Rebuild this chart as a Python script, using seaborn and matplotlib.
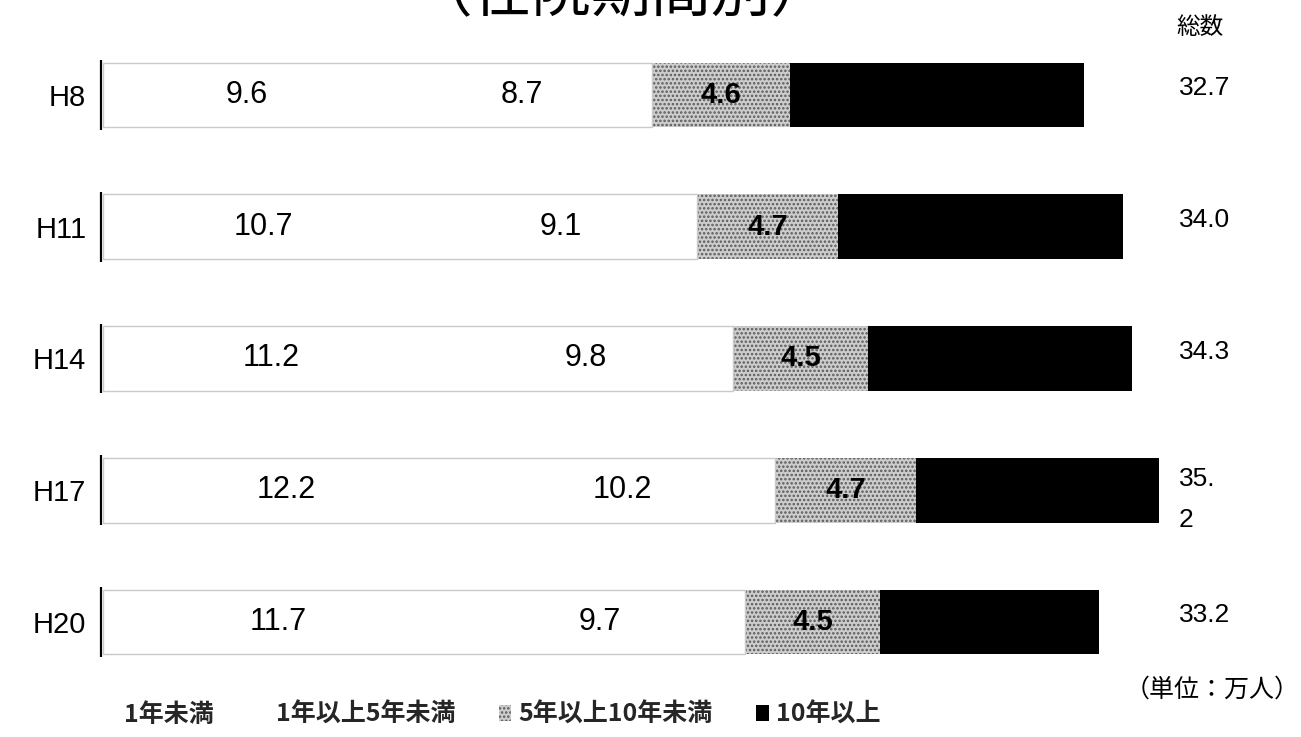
import matplotlib
matplotlib.use("Agg")
import matplotlib.pyplot as plt
import matplotlib.patches as mpatches
import seaborn as sns
import numpy as np
import pandas as pd

# ---- data ----
categories = ["H8", "H11", "H14", "H17", "H20"]
under_1y = [9.6, 10.7, 11.2, 12.2, 11.7]
y1_to_5 = [8.7, 9.1, 9.8, 10.2, 9.7]
y5_to_10 = [4.6, 4.7, 4.5, 4.7, 4.5]
over_10y = [9.8, 9.5, 8.8, 8.1, 7.3]
total_labels = ["32.7", "34.0", "34.3", "35.\n2", "33.2"]
series_names = ["1年未満", "1年以上5年未満", "5年以上10年未満", "10年以上"]

sns.set_theme(style="white")
plt.rcParams["font.family"] = ["Liberation Sans", "Noto Sans CJK JP", "DejaVu Sans"]
plt.rcParams["hatch.linewidth"] = 1.2

df = pd.DataFrame({"cat": categories, "a": under_1y, "b": y1_to_5,
                   "c": y5_to_10, "d": over_10y})
df["c1"] = df["a"]
df["c2"] = df["a"] + df["b"]
df["c3"] = df["c2"] + df["c"]
df["c4"] = df["c3"] + df["d"]

W, H = 1301, 737
fig = plt.figure(figsize=(W / 100, H / 100), dpi=100)
ax = fig.add_axes([103 / W, 0, 1198 / W, 1])

bw = 0.49
grey_face, grey_dot = "#cdcdcd", "#5a5a5a"
sns.barplot(data=df, y="cat", x="c4", orient="h", color="black", width=bw,
            saturation=1, linewidth=0, ax=ax)
sns.barplot(data=df, y="cat", x="c3", orient="h", color=grey_face, width=bw,
            saturation=1, hatch="....", edgecolor=grey_dot, linewidth=0, ax=ax)
sns.barplot(data=df, y="cat", x="c1", orient="h", color="white", width=bw,
            saturation=1, linewidth=0, ax=ax)
sns.barplot(data=df, y="cat", x="c2", orient="h", color="white", width=bw,
            saturation=1, edgecolor="#cacaca", linewidth=1.0, ax=ax)

ypos = np.arange(len(categories))
ax.vlines(np.full(len(categories), -0.08), ypos - bw / 2 - 0.02, ypos + bw / 2 + 0.02,
          color="black", lw=1.6, zorder=5, clip_on=False)

ax.set_xlim(0, 1198 / 30)
ax.set_ylim(4.873, -0.721)
ax.set_xlabel("")
ax.set_ylabel("")
ax.set_xticks([])
ax.tick_params(axis="y", left=False, pad=6, labelsize=21, labelcolor="black")
sns.despine(ax=ax, left=True, bottom=True)

num_font = dict(color="black", family=["Liberation Sans", "DejaVu Sans"])
for i in range(len(categories)):
    ax.text(df["a"][i] / 2, i, f"{under_1y[i]}", ha="center", va="center",
            fontsize=22, **num_font)
    ax.text(df["c1"][i] + df["b"][i] / 2, i, f"{y1_to_5[i]}", ha="center", va="center",
            fontsize=22, **num_font)
    ax.text(df["c2"][i] + df["c"][i] / 2, i, f"{y5_to_10[i]}", ha="center", va="center",
            fontsize=21, fontweight="bold", **num_font)
    two = "\n" in total_labels[i]
    ax.text(35.85, i + (0.07 if two else -0.05), total_labels[i],
            ha="left", va="center", linespacing=1.85,
            fontsize=19, color="black", family=["Liberation Sans Narrow", "Liberation Sans"])

cjk = ["Noto Sans CJK JP", "DejaVu Sans"]
fig.text(622 / W, 1 - 10 / H, "（在院期間別）", ha="center", va="baseline",
         fontsize=43, family=cjk, color="black")
fig.text(1200 / W, 1 - 28 / H, "総数", ha="center", va="center", fontsize=17,
         family=cjk, color="black")
fig.text(1300 / W, 1 - 690 / H, "（単位：万人）", ha="right", va="center", fontsize=18,
         family=cjk, color="black")

handles = [
    mpatches.Patch(facecolor="white", edgecolor="none"),
    mpatches.Patch(facecolor="white", edgecolor="none"),
    mpatches.Patch(facecolor=grey_face, edgecolor=grey_dot, hatch="....", linewidth=0),
    mpatches.Patch(facecolor="black", edgecolor="none"),
]
leg = fig.legend(handles, series_names, loc="center", bbox_to_anchor=(492 / W, 1 - 715 / H),
                 ncol=4, frameon=False, handlelength=0.5, handleheight=0.6,
                 handletextpad=0.3, columnspacing=1.72,
                 prop={"family": cjk, "size": 18, "weight": "bold"})

fig.savefig("out.png", dpi=100)
